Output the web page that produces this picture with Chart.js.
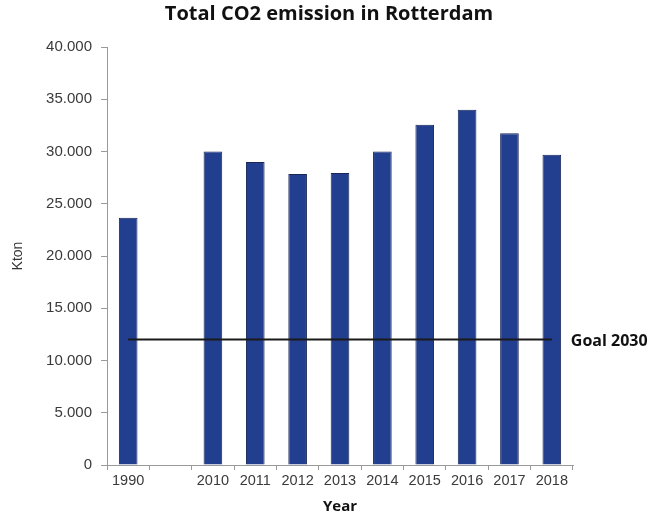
<!DOCTYPE html>
<html>
<head>
<meta charset="utf-8">
<script src="https://cdn.jsdelivr.net/npm/chart.js@4/dist/chart.umd.min.js"></script>
<style>
html,body{margin:0;padding:0;background:#fff;}
#wrap{width:658px;height:516px;}
</style>
</head>
<body>
<div id="wrap"><canvas id="c" width="658" height="516"></canvas></div>
<script>
const categories = ['1990', '', '2010', '2011', '2012', '2013', '2014', '2015', '2016', '2017', '2018'];
const emissions = [23650, null, 30000, 29000, 27850, 27950, 30000, 32550, 34000, 31750, 29700];
const goal2030 = [12000, 12000, 12000, 12000, 12000, 12000, 12000, 12000, 12000, 12000, 12000];
const goalLabel = 'Goal 2030';
const yTicks = [0, 5000, 10000, 15000, 20000, 25000, 30000, 35000, 40000];

function fmt(v){
  return v === 0 ? '0' : (v/1000).toFixed(3);
}

const goalLabelPlugin = {
  id: 'goalLabel',
  afterDatasetsDraw(chart){
    const meta = chart.getDatasetMeta(1);
    const pts = meta.data;
    const last = pts[pts.length - 1];
    const ctx = chart.ctx;
    ctx.save();
    ctx.font = 'bold 16px "Open Sans"';
    ctx.fillStyle = '#111';
    ctx.textBaseline = 'middle';
    ctx.textAlign = 'left';
    ctx.fillText(goalLabel, last.x + 19, last.y + 2);
    ctx.restore();
  }
};

new Chart(document.getElementById('c'), {
  data: {
    labels: categories,
    datasets: [
      {
        type: 'bar',
        data: emissions,
        backgroundColor: '#223f8f',
        borderColor: '#1a2658',
        borderWidth: 1,
        barPercentage: 0.44,
        categoryPercentage: 1.0,
        order: 2
      },
      {
        type: 'line',
        data: goal2030,
        borderColor: '#1a1a1a',
        borderWidth: 2,
        pointRadius: 0,
        fill: false,
        order: 1
      }
    ]
  },
  options: {
    responsive: false,
    animation: false,
    devicePixelRatio: 1,
    layout: { padding: 0 },
    plugins: {
      legend: { display: false },
      tooltip: { enabled: false },
      title: {
        display: true,
        text: 'Total CO2 emission in Rotterdam',
        color: '#111',
        font: { family: '"Open Sans"', size: 20, weight: 'bold', lineHeight: 1.2 },
        padding: { top: 2, bottom: 21 }
      }
    },
    scales: {
      x: {
        type: 'category',
        grid: { display: true, drawOnChartArea: false, drawTicks: true, tickLength: 5, offset: true, color: '#9a9a9a' },
        border: { display: true, color: '#9a9a9a', width: 1 },
        ticks: {
          color: '#3a3a3a',
          font: { family: '"Liberation Sans"', size: 14.5 },
          padding: 2,
          maxRotation: 0,
          autoSkip: false
        },
        title: {
          display: true,
          text: 'Year',
          color: '#111',
          font: { family: '"Open Sans"', size: 15, weight: 'bold' },
          padding: { top: 4, bottom: 0 }
        },
        afterFit(scale){ scale.height = 51; }
      },
      y: {
        min: 0,
        max: 40000,
        afterBuildTicks(scale){ scale.ticks = yTicks.map(v => ({ value: v })); },
        grid: { display: true, drawOnChartArea: false, drawTicks: true, tickLength: 6, color: '#9a9a9a' },
        border: { display: true, color: '#9a9a9a', width: 1 },
        ticks: {
          color: '#3a3a3a',
          font: { family: '"Liberation Sans"', size: 15 },
          padding: 9,
          callback: (v) => fmt(v)
        },
        title: {
          display: true,
          text: 'Kton',
          color: '#333',
          font: { family: '"Liberation Sans"', size: 14 },
          padding: { top: 10, bottom: 0 }
        },
        afterFit(scale){ scale.width = 107; }
      },
      yRight: {
        type: 'linear',
        position: 'right',
        display: true,
        grid: { display: false },
        border: { display: false },
        ticks: { display: false },
        afterFit(scale){ scale.width = 85; }
      }
    }
  },
  plugins: [goalLabelPlugin]
});
</script>
</body>
</html>
